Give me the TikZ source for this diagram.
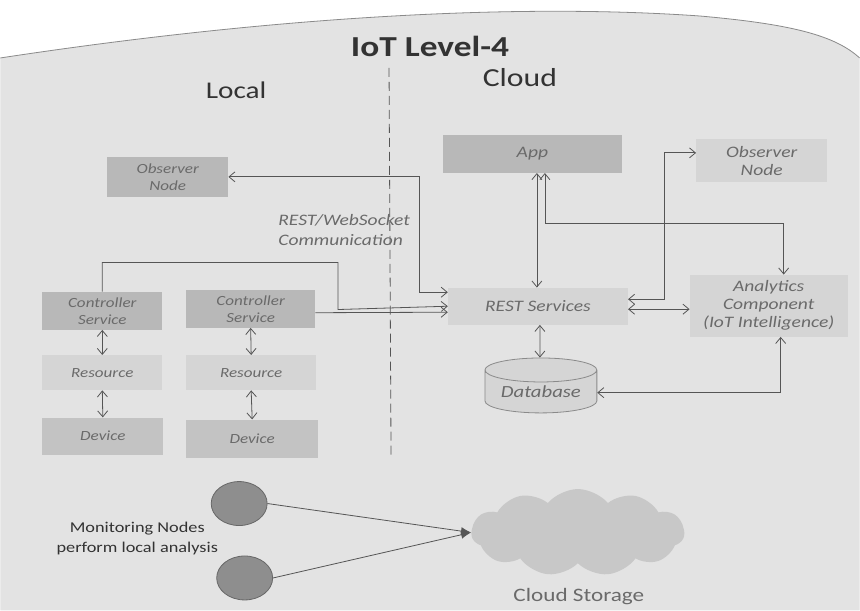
\documentclass[tikz,border=0pt]{standalone}
\usepackage{fontspec}
\setmainfont[FakeStretch=1.22]{Carlito}
\usepackage{xcolor}
\usetikzlibrary{arrows.meta,shapes.geometric,shapes.symbols}
\definecolor{pagegray}{HTML}{E3E3E3}
\definecolor{edgegray}{HTML}{8A8A8A}
\definecolor{boxdark}{HTML}{B8B8B8}
\definecolor{boxmid}{HTML}{C3C3C3}
\definecolor{boxlight}{HTML}{D5D5D5}
\definecolor{inktext}{HTML}{333333}
\definecolor{boxtext}{HTML}{6A6A6A}
\definecolor{wire}{HTML}{555555}
\definecolor{nodegray}{HTML}{8E8E8E}
\definecolor{nodeedge}{HTML}{676767}
\definecolor{storegray}{HTML}{C8C8C8}

\begin{document}
\begin{tikzpicture}[x=1pt,y=-1pt,>={Straight Barb[length=6pt,width=10pt]},
  box/.style={rectangle,inner sep=0pt,align=center,text=boxtext,
    font=\fontsize{14}{17}\selectfont\itshape},
  darkbox/.style={box,fill=boxdark},
  midbox/.style={box,fill=boxmid},
  lightbox/.style={box,fill=boxlight},
  cloudbox/.style={font=\fontsize{16}{18}\selectfont\itshape},
  link/.style={draw=wire,line width=0.8pt},
  heading/.style={text=inktext,font=\fontsize{24}{28}\selectfont},
  monitor/.style={ellipse,fill=nodegray,draw=nodeedge,line width=0.8pt,
    minimum width=56pt,minimum height=44pt,inner sep=0pt}]
%\draw[color=black!20,step=10] (0,0) grid (860,611);
\fill[white] (0,0) rectangle (860,611);
\fill[pagegray] (0,58) .. controls (250,20) and (500,2) .. (700,16)
  .. controls (790,24) and (835,35) .. (860,58) -- (860,611) -- (0,611) -- cycle;
\draw[edgegray,line width=0.8pt] (0,58) .. controls (250,20) and (500,2) .. (700,16)
  .. controls (790,24) and (835,35) .. (860,58);
\useasboundingbox (0,0) rectangle (860,611);

\node[text=inktext,font=\fontsize{29}{32}\selectfont\bfseries] (title) at (430,46) {IoT Level-4};
\node[heading] (local) at (236,90) {Local};
\node[heading,font=\fontsize{26}{30}\selectfont] (cloud) at (520,78) {Cloud};
\coordinate (cutT) at (389,68);
\coordinate (cutB) at (391,456);
\draw[wire,line width=0.8pt,dash pattern=on 9pt off 5pt] (cutT) -- (cutB);

% local side
\node[darkbox,minimum width=121pt,minimum height=40pt] (obsL) at (167.5,177) {Observer\\Node};
\node[darkbox,minimum width=120pt,minimum height=38pt] (cs1) at (102,311) {Controller\\Service};
\node[darkbox,minimum width=129pt,minimum height=38pt] (cs2) at (250.5,309) {Controller\\Service};
\node[lightbox,minimum width=120pt,minimum height=35pt] (res1) at (102,373) {Resource};
\node[lightbox,minimum width=130pt,minimum height=35pt] (res2) at (251,373) {Resource};
\node[midbox,minimum width=121pt,minimum height=37pt] (dev1) at (102.5,436.5) {Device};
\node[midbox,minimum width=132pt,minimum height=38pt] (dev2) at (252,439) {Device};
\node[text=boxtext,font=\fontsize{16}{20}\selectfont\itshape,align=left] (ws) at (344,230) {REST/WebSocket\\Communication};

% cloud side
\node[darkbox,cloudbox,minimum width=179pt,minimum height=38pt] (app) at (532.5,154) {App};
\node[lightbox,cloudbox,minimum width=131pt,minimum height=43pt] (obsR) at (762,161) {Observer\\Node};
\node[lightbox,cloudbox,minimum width=180pt,minimum height=37pt] (rest) at (538,306.5) {REST Services};
\node[lightbox,cloudbox,minimum width=158pt,minimum height=62pt] (ana) at (769,306) {Analytics\\Component\\(IoT Intelligence)};
\node[cylinder,shape border rotate=90,aspect=0.3,fill=boxlight,draw=edgegray,line width=0.8pt,
  minimum width=112pt,minimum height=55pt,inner sep=0pt,text=boxtext,
  font=\fontsize{17}{20}\selectfont\itshape] (db) at (541,392) {Database};

\draw[link,<->] (cs1.south) -- (res1.north);
\draw[link,<->] (res1.south) -- (dev1.north);
\draw[link,<->] (cs2.south) -- (res2.north);
\draw[link,<->] (res2.south) -- (dev2.north);
\draw[link,<->] (obsL.east) -- ++(191,0) |- ([yshift=14pt]rest.west);
\draw[link,->] (cs1.north) -- ++(0,-29) -| ++(236,47) -- ([yshift=0pt]rest.west);
\draw[link,->] ([yshift=-4pt]cs2.east) -- ([yshift=-6pt]rest.west);
\draw[link,<->] ([xshift=4.5pt]app.south) -- ([xshift=4.5pt]app.south |- rest.north);
\draw[link,<->] ([xshift=12.5pt]app.south) -- ++(0,50) -| ([xshift=15pt]ana.north);
\draw[link,<->] ([yshift=7pt]rest.east) -- ++(36,0) |- ([yshift=8pt]obsR.west);
\draw[link,<->] ([yshift=-3pt]rest.east) -- ([yshift=-3pt]rest.east -| ana.west);
\draw[link,<->] ([xshift=2pt]rest.south) -- ([xshift=-1pt]db.north);
\draw[link,<->] ([yshift=-1pt]db.east) -| ([xshift=12pt]ana.south);

% monitoring nodes
\node[monitor] (mon1) at (239,504) {};
\node[monitor] (mon2) at (244.5,578.5) {};
\node[text=inktext,font=\fontsize{15}{21}\selectfont,align=center] (monlbl) at (137,539) {Monitoring Nodes\\perform local analysis};
\node[cloud,cloud puffs=11,cloud puff arc=100,aspect=2.4,fill=storegray,
  minimum width=213pt,minimum height=87pt,inner sep=0pt] (store) at (578,533) {};
\node[text=boxtext,font=\fontsize{19}{22}\selectfont] (storelbl) at (579,597) {Cloud Storage};
\draw[link,-{Latex[length=10pt,width=8pt]}] (mon1.east) -- (store.west);
\draw[link,-{Latex[length=10pt,width=8pt]}] (mon2.east) -- (store.west);
\end{tikzpicture}
\end{document}
